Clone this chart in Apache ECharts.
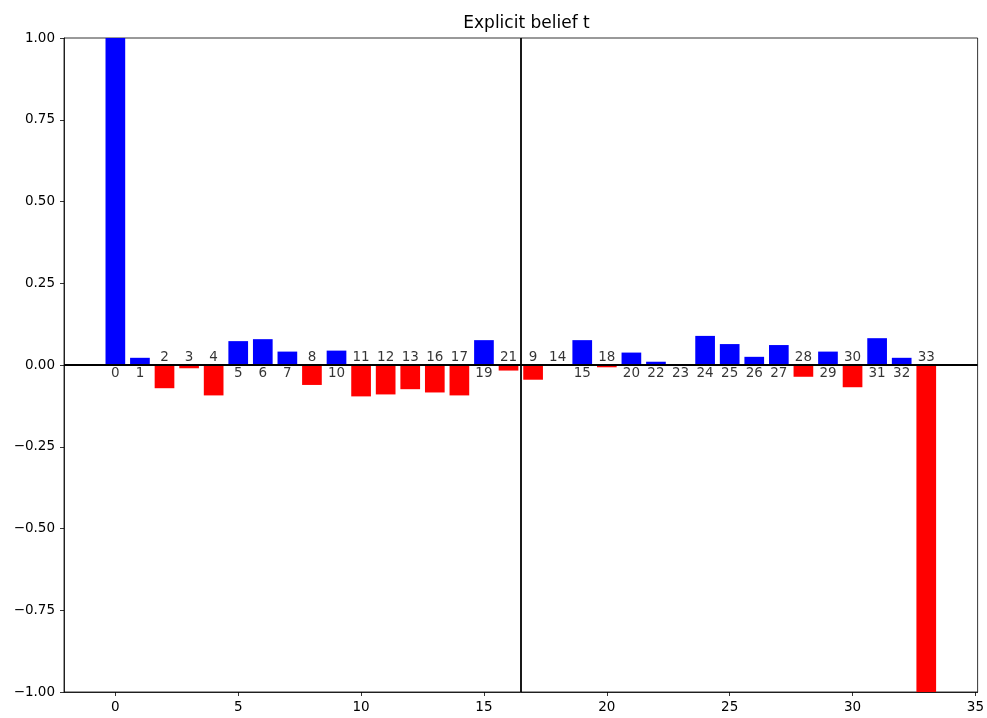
<!DOCTYPE html>
<html>
<head>
<meta charset="utf-8">
<script src="https://cdn.jsdelivr.net/npm/echarts@6/dist/echarts.min.js"></script>
<style>
  html, body { margin: 0; padding: 0; background: #fff; }
  #main { width: 987px; height: 718px; }
</style>
</head>
<body>
<div id="main"></div>
<script>
// node ids shown next to each bar, in bar order
var nodeIds = [0, 1, 2, 3, 4, 5, 6, 7, 8, 10, 11, 12, 13, 16, 17, 19, 21,
               9, 14, 15, 18, 20, 22, 23, 24, 25, 26, 27, 28, 29, 30, 31, 32, 33];
// belief values
var beliefs = [1.0, 0.022, -0.071, -0.010, -0.093, 0.073, 0.079, 0.041, -0.061,
               0.044, -0.096, -0.090, -0.074, -0.084, -0.093, 0.076, -0.017,
               -0.045, -0.001, 0.076, -0.007, 0.038, 0.010, 0.0, 0.089, 0.064,
               0.025, 0.061, -0.036, 0.041, -0.068, 0.082, 0.022, -1.0];
var xTicks = [0, 5, 10, 15, 20, 25, 30, 35];
var splitAt = 16.5;

var font = 'DejaVu Sans';
var xMin = -2.09, xMax = 35.09;
var gridLeft = 64, gridRight = 8;
var barW = 0.8 * (987 - gridLeft - gridRight) / (xMax - xMin);

var barData = [], labelData = [];
beliefs.forEach(function (v, i) {
  barData.push({
    value: [i, v],
    itemStyle: { color: v < 0 ? '#ff0000' : '#0000ff' }
  });
  labelData.push({
    value: [i, 0],
    label: { position: v < 0 ? 'top' : 'bottom' }
  });
});

function fmt(v) {
  return (v < 0 ? '\u2212' : '') + Math.abs(v).toFixed(2);
}

var chart = echarts.init(document.getElementById('main'));
chart.setOption({
  animation: false,
  title: {
    text: 'Explicit belief t',
    left: (gridLeft + 987 - gridRight) / 2,
    textAlign: 'center',
    top: 10,
    textStyle: { fontFamily: font, fontSize: 17, fontWeight: 'normal', color: '#000' }
  },
  grid: {
    left: gridLeft, right: gridRight, top: 38, bottom: 26,
    show: true, borderColor: '#000', borderWidth: 0.8
  },
  xAxis: {
    type: 'value',
    min: xMin, max: xMax,
    splitLine: { show: false },
    axisLine: { onZero: false, lineStyle: { color: '#000', width: 0.8 } },
    axisTick: { length: 4, lineStyle: { color: '#000', width: 0.8 }, customValues: xTicks },
    axisLabel: {
      customValues: xTicks,
      margin: 8,
      fontFamily: font, fontSize: 13.5, color: '#000'
    }
  },
  yAxis: {
    type: 'value',
    min: -1, max: 1, interval: 0.25,
    splitLine: { show: false },
    axisLine: { show: true, onZero: false, lineStyle: { color: '#000', width: 0.8 } },
    axisTick: { show: true, length: 4, lineStyle: { color: '#000', width: 0.8 } },
    axisLabel: {
      margin: 9,
      formatter: fmt,
      fontFamily: font, fontSize: 13.5, color: '#000'
    }
  },
  series: [{
    type: 'bar',
    data: barData,
    barWidth: barW,
    markLine: {
      silent: true,
      symbol: 'none',
      label: { show: false },
      lineStyle: { color: '#000', width: 1.8, type: 'solid' },
      data: [{ yAxis: 0 }, { xAxis: splitAt }]
    }
  }, {
    type: 'scatter',
    data: labelData,
    symbolSize: 0,
    z: 5,
    label: {
      show: true,
      distance: 1,
      formatter: function (p) { return String(nodeIds[p.dataIndex]); },
      fontFamily: font, fontSize: 13.5, color: '#000'
    }
  }]
});
</script>
</body>
</html>
